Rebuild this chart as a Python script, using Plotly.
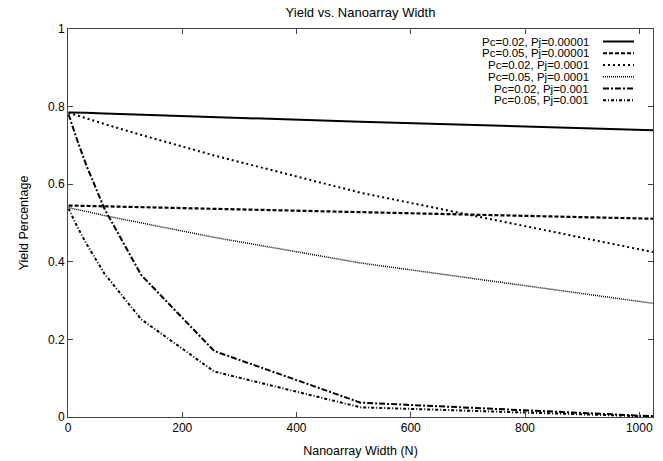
import plotly.graph_objects as go

# ---- data ----
N = [1, 2, 4, 8, 16, 32, 64, 128, 256, 512, 1024]
series_names = [
    "Pc=0.02, Pj=0.00001",
    "Pc=0.05, Pj=0.00001",
    "Pc=0.02, Pj=0.0001",
    "Pc=0.05, Pj=0.0001",
    "Pc=0.02, Pj=0.001",
    "Pc=0.05, Pj=0.001",
]
y_pc02_pj00001 = [0.785, 0.785, 0.785, 0.785, 0.785, 0.784, 0.782, 0.779, 0.773, 0.761, 0.739]
y_pc05_pj00001 = [0.545, 0.545, 0.545, 0.545, 0.545, 0.544, 0.543, 0.541, 0.537, 0.528, 0.511]
y_pc02_pj0001 = [0.785, 0.784, 0.783, 0.781, 0.777, 0.770, 0.755, 0.727, 0.674, 0.578, 0.425]
y_pc05_pj0001 = [0.540, 0.539, 0.539, 0.537, 0.535, 0.530, 0.519, 0.500, 0.463, 0.397, 0.293]
y_pc02_pj001 = [0.780, 0.776, 0.767, 0.749, 0.714, 0.649, 0.536, 0.366, 0.170, 0.037, 0.002]
y_pc05_pj001 = [0.537, 0.534, 0.527, 0.515, 0.491, 0.447, 0.369, 0.252, 0.117, 0.025, 0.001]
all_y = [y_pc02_pj00001, y_pc05_pj00001, y_pc02_pj0001, y_pc05_pj0001, y_pc02_pj001, y_pc05_pj001]

x_ticks = [0, 200, 400, 600, 800, 1000]
y_ticks = [0, 0.2, 0.4, 0.6, 0.8, 1]
y_tick_labels = ["0", "0.2", "0.4", "0.6", "0.8", "1"]

# ---- styles ----
dashes = ["solid", "4px,2px", "2px,3px", "1px,1px", "6px,2px,2px,2px", "3px,2px,1px,2px"]
widths = [2, 2.2, 2, 1.5, 2, 2]
FONT = "Liberation Sans, Arial, sans-serif"

W, H = 663, 461
ML, MR, MT, MB = 68, 10, 29, 44
PW, PH = W - ML - MR, H - MT - MB

fig = go.Figure()
for name, ys, d, w in zip(series_names, all_y, dashes, widths):
    fig.add_trace(go.Scatter(x=N, y=ys, mode="lines", name=name,
                             line=dict(color="black", dash=d, width=w),
                             showlegend=False))

# custom gnuplot-style legend: text right-aligned, sample on the right
text_right_px = 591
sample_px = (603, 634)
row0_px, row_step = 41.5, 11.75
for i, (name, d, w) in enumerate(zip(series_names, dashes, widths)):
    py = row0_px + i * row_step
    yp = (MT + PH - py) / PH
    fig.add_annotation(x=(text_right_px - ML) / PW, y=yp, xref="paper", yref="paper",
                       text=name, showarrow=False, xanchor="right", yanchor="middle",
                       font=dict(family=FONT, size=11.5, color="black"))
    fig.add_shape(type="line", xref="paper", yref="paper",
                  x0=(sample_px[0] - ML) / PW, x1=(sample_px[1] - ML) / PW, y0=yp, y1=yp,
                  line=dict(color="black", dash=d, width=w))

axis_common = dict(showgrid=False, zeroline=False, showline=True, linecolor="#444",
                   linewidth=1, mirror="ticks", ticks="inside", ticklen=5,
                   tickcolor="#444", automargin=False,
                   tickfont=dict(family=FONT, size=12, color="black"))

fig.update_layout(
    width=W, height=H,
    margin=dict(l=ML, r=MR, t=MT, b=MB),
    paper_bgcolor="white", plot_bgcolor="white",
    title=dict(text="Yield vs. Nanoarray Width", x=(ML + PW / 2) / W, xanchor="center",
               y=1 - 12 / H, yanchor="middle",
               font=dict(family=FONT, size=13, color="black")),
    xaxis=dict(range=[0, 1024], tickvals=x_ticks,
               title=dict(text="Nanoarray Width (N)", standoff=11,
                          font=dict(family=FONT, size=12.5, color="black")),
               **axis_common),
    yaxis=dict(range=[0, 1], tickvals=y_ticks, ticktext=y_tick_labels,
               title=dict(text="Yield Percentage", standoff=16,
                          font=dict(family=FONT, size=12.5, color="black")),
               **axis_common),
)

fig.write_html("out.html", config={"displayModeBar": False},
               post_script="document.body.style.margin='0';")
